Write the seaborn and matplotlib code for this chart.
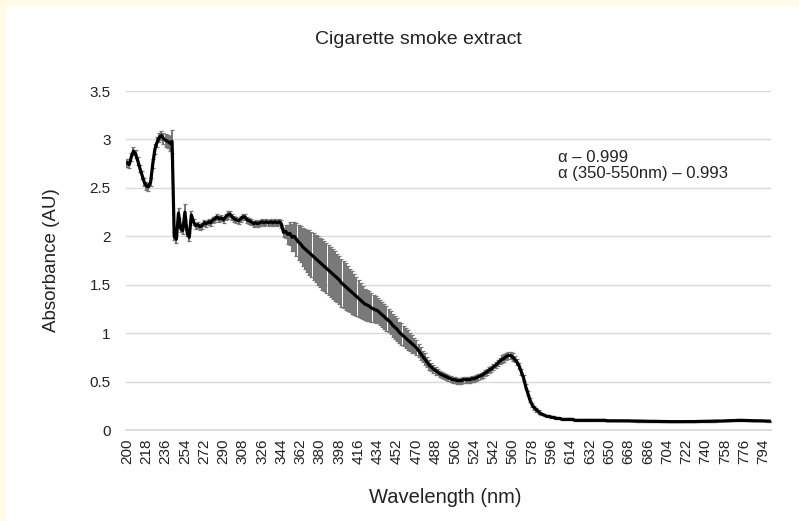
import numpy as np
import pandas as pd
import matplotlib
matplotlib.use("Agg")
import matplotlib.pyplot as plt
import seaborn as sns

# --- Data (2 nm steps from 200 to 800 nm) ---
wavelength = list(range(200, 801, 2))

absorbance = [
    2.76, 2.74, 2.82, 2.88, 2.85, 2.78, 2.70, 2.63, 2.56, 2.52,   # 200-218
    2.51, 2.56, 2.75, 2.90, 2.97, 3.02, 3.04, 3.01, 2.99, 2.98,   # 220-238
    2.96, 2.98, 2.00, 1.97, 2.24, 2.08, 2.06, 2.25, 2.04, 1.99,   # 240-258
    2.22, 2.15, 2.11, 2.12, 2.10, 2.11, 2.14, 2.13, 2.15, 2.14,   # 260-278
    2.17, 2.18, 2.20, 2.18, 2.19, 2.17, 2.20, 2.22, 2.23, 2.20,   # 280-298
    2.18, 2.17, 2.16, 2.18, 2.20, 2.20, 2.17, 2.16, 2.15, 2.13,   # 300-318
    2.14, 2.13, 2.14, 2.15, 2.14, 2.15, 2.14, 2.15, 2.14, 2.15,   # 320-338
    2.14, 2.15, 2.13, 2.04, 2.05, 2.02, 2.03, 1.99, 2.00, 1.97,   # 340-358
    1.94, 1.92, 1.89, 1.87, 1.85, 1.83, 1.81, 1.79, 1.77, 1.75,   # 360-378
    1.73, 1.71, 1.69, 1.67, 1.65, 1.63, 1.61, 1.59, 1.57, 1.55,   # 380-398
    1.52, 1.50, 1.48, 1.46, 1.44, 1.42, 1.40, 1.38, 1.36, 1.34,   # 400-418
    1.32, 1.30, 1.29, 1.28, 1.26, 1.25, 1.24, 1.23, 1.21, 1.19,   # 420-438
    1.17, 1.15, 1.13, 1.11, 1.08, 1.06, 1.04, 1.01, 0.99, 0.97,   # 440-458
    0.95, 0.93, 0.91, 0.89, 0.87, 0.85, 0.82, 0.79, 0.76, 0.73,   # 460-478
    0.70, 0.67, 0.65, 0.63, 0.61, 0.60, 0.58, 0.57, 0.56, 0.55,   # 480-498
    0.54, 0.53, 0.52, 0.52, 0.51, 0.51, 0.51, 0.52, 0.52, 0.52,   # 500-518
    0.52, 0.53, 0.53, 0.54, 0.55, 0.56, 0.57, 0.59, 0.60, 0.62,   # 520-538
    0.63, 0.65, 0.67, 0.69, 0.71, 0.73, 0.74, 0.76, 0.77, 0.77,   # 540-558
    0.75, 0.73, 0.70, 0.66, 0.60, 0.54, 0.45, 0.38, 0.31, 0.26,   # 560-578
    0.23, 0.21, 0.19, 0.17, 0.16, 0.15, 0.14, 0.14, 0.13, 0.13,   # 580-598
    0.12, 0.12, 0.12, 0.11, 0.11, 0.11, 0.11, 0.11, 0.11, 0.10,   # 600-618
    0.10, 0.10, 0.10, 0.10, 0.10, 0.10, 0.10, 0.10, 0.10, 0.10,   # 620-638
    0.100, 0.100, 0.100, 0.100, 0.095, 0.095, 0.095, 0.095, 0.095, 0.095,  # 640-658
    0.095, 0.095, 0.095, 0.094, 0.094, 0.093, 0.093, 0.093, 0.092, 0.092,  # 660-678
    0.092, 0.091, 0.091, 0.090, 0.090, 0.090, 0.089, 0.089, 0.088, 0.088,  # 680-698
    0.088, 0.087, 0.087, 0.086, 0.086, 0.086, 0.085, 0.085, 0.085, 0.085,  # 700-718
    0.085, 0.085, 0.086, 0.086, 0.087, 0.087, 0.088, 0.088, 0.089, 0.089,  # 720-738
    0.090, 0.090, 0.091, 0.091, 0.092, 0.092, 0.093, 0.093, 0.093, 0.094,  # 740-758
    0.094, 0.095, 0.096, 0.097, 0.098, 0.099, 0.100, 0.100, 0.099, 0.098,  # 760-778
    0.097, 0.096, 0.096, 0.095, 0.095, 0.094, 0.094, 0.093, 0.093, 0.092,  # 780-798
    0.092,                                                                # 800
]

std_dev = [
    0.04, 0.04, 0.04, 0.04, 0.04, 0.04, 0.04, 0.04, 0.04, 0.04,   # 200-218
    0.04, 0.04, 0.05, 0.05, 0.05, 0.05, 0.05, 0.06, 0.07, 0.07,   # 220-238
    0.08, 0.12, 0.04, 0.04, 0.05, 0.04, 0.04, 0.08, 0.04, 0.04,   # 240-258
    0.04, 0.03, 0.03, 0.03, 0.03, 0.03, 0.03, 0.03, 0.03, 0.03,   # 260-278
    0.03, 0.03, 0.03, 0.03, 0.03, 0.03, 0.03, 0.04, 0.03, 0.03,   # 280-298
    0.03, 0.03, 0.03, 0.03, 0.03, 0.03, 0.03, 0.03, 0.03, 0.03,   # 300-318
    0.03, 0.03, 0.03, 0.03, 0.03, 0.03, 0.03, 0.03, 0.03, 0.03,   # 320-338
    0.03, 0.03, 0.04, 0.05, 0.07, 0.10, 0.12, 0.14, 0.15, 0.17,   # 340-358
    0.18, 0.19, 0.20, 0.21, 0.22, 0.23, 0.23, 0.24, 0.24, 0.25,   # 360-378
    0.25, 0.26, 0.26, 0.26, 0.26, 0.26, 0.26, 0.26, 0.25, 0.25,   # 380-398
    0.25, 0.24, 0.24, 0.23, 0.22, 0.22, 0.21, 0.20, 0.19, 0.18,   # 400-418
    0.17, 0.16, 0.16, 0.15, 0.15, 0.14, 0.14, 0.13, 0.13, 0.13,   # 420-438
    0.13, 0.13, 0.12, 0.12, 0.12, 0.12, 0.12, 0.11, 0.11, 0.10,   # 440-458
    0.10, 0.10, 0.09, 0.09, 0.08, 0.08, 0.07, 0.07, 0.06, 0.06,   # 460-478
    0.05, 0.05, 0.04, 0.04, 0.04, 0.03, 0.03, 0.03, 0.03, 0.03,   # 480-498
    0.03, 0.03, 0.03, 0.03, 0.03, 0.03, 0.03, 0.03, 0.03, 0.03,   # 500-518
    0.03, 0.03, 0.03, 0.03, 0.03, 0.03, 0.03, 0.03, 0.03, 0.03,   # 520-538
    0.03, 0.03, 0.03, 0.03, 0.03, 0.04, 0.04, 0.04, 0.04, 0.04,   # 540-558
    0.04, 0.03, 0.03, 0.03, 0.03, 0.03, 0.03, 0.02, 0.02, 0.02,   # 560-578
    0.02, 0.02, 0.02, 0.01, 0.01, 0.01, 0.01, 0.01, 0.01, 0.01,   # 580-598
] + [0.005] * 101                                                 # 600-800

df = pd.DataFrame({"wavelength": wavelength, "absorbance": absorbance, "sd": std_dev})

tick_labels = list(range(200, 795, 18))

# --- Plot ---
sns.set_theme(style="white")
plt.rcParams['font.family'] = ['Liberation Sans', 'DejaVu Sans']
TEXT = '#222222'

fig = plt.figure(figsize=(7.99, 5.21), dpi=100, facecolor='#fffbe7')
# white chart area inside the cream border
bg = fig.add_axes([6 / 799, 0, 1 - 6 / 799, 1 - 7 / 521], zorder=-1)
bg.set_facecolor('white')
bg.set_xticks([])
bg.set_yticks([])
for s in bg.spines.values():
    s.set_visible(False)

ax = fig.add_axes([126 / 799, 1 - 430 / 521, 645 / 799, 339 / 521])
ax.set_facecolor('white')

ax.errorbar(df['wavelength'], df['absorbance'], yerr=df['sd'], fmt='none',
            ecolor='#767676', elinewidth=1.4, capsize=1.6, capthick=0.9, zorder=2)
sns.lineplot(data=df, x='wavelength', y='absorbance', color='black', linewidth=2.3,
             ax=ax, zorder=3)

ax.set_xlim(199, 801)
ax.set_ylim(0, 3.5)
ax.set_yticks(np.arange(0, 3.51, 0.5))
ax.set_yticklabels(['0', '0.5', '1', '1.5', '2', '2.5', '3', '3.5'], fontsize=11)
ax.set_xticks(tick_labels)
ax.set_xticklabels([str(t) for t in tick_labels], rotation=90, fontsize=11)
ax.tick_params(axis='y', length=0, pad=11, colors=TEXT)
ax.tick_params(axis='x', length=0, pad=6, colors=TEXT)
ax.grid(axis='y', color='#d9d9d9', linewidth=1)
for s in ['top', 'right', 'left']:
    ax.spines[s].set_visible(False)
ax.spines['bottom'].set_color('#d9d9d9')

ax.set_xlabel('Wavelength (nm)', fontsize=14.5, color=TEXT)
ax.xaxis.set_label_coords(0.495, -0.198)
ax.xaxis.label.set_va('center')
ax.set_ylabel('Absorbance (AU)', fontsize=13.5, color=TEXT)
ax.yaxis.set_label_coords(-0.116, 0.5)
ax.yaxis.label.set_va('center')

fig.text(418 / 799, 1 - 40 / 521, 'Cigarette smoke extract', ha='center', va='center',
         fontsize=14, color=TEXT)
ax.text(602, 2.81, 'α – 0.999', fontsize=12, color=TEXT, ha='left', va='center')
ax.text(602, 2.65, 'α (350-550nm) – 0.993', fontsize=12, color=TEXT, ha='left', va='center')

fig.savefig('out.png', dpi=100, facecolor=fig.get_facecolor())
